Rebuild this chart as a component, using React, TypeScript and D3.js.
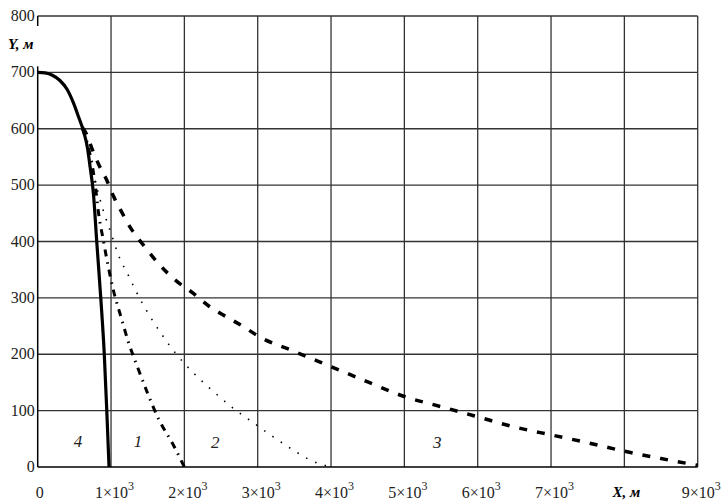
import React from 'react';
import * as d3 from 'd3';

// trajectories: [x (m), y (m)]
const curve4: [number, number][] = [
  [0, 700], [100, 699], [200, 695], [300, 686], [400, 670], [490, 645], [560, 620],
  [622, 597], [680, 565], [715, 532], [760, 485], [805, 400], [860, 300],
  [908, 200], [942, 100], [973, 0],
];
const curve1: [number, number][] = [
  [610, 600], [700, 562], [780, 505], [830, 450], [895, 402], [963, 355], [1031, 314],
  [1136, 266], [1236, 222], [1359, 178], [1495, 132], [1645, 86], [1850, 39], [2000, 0],
];
const curve2: [number, number][] = [
  [690, 560], [760, 520], [873, 464], [1009, 411], [1100, 376], [1236, 340], [1359, 307],
  [1509, 272], [1682, 237], [1873, 203], [2123, 167], [2396, 134], [2669, 104],
  [2935, 79], [3206, 54], [3473, 31], [3738, 11], [4000, 0],
];
const curve3: [number, number][] = [
  [610, 602], [668, 590], [736, 566], [827, 538], [941, 509], [1031, 481], [1146, 452],
  [1282, 421], [1464, 390], [1645, 361], [1873, 332], [2123, 308], [2328, 286],
  [2578, 266], [2805, 249], [3010, 232], [3500, 205], [4000, 178], [4500, 151],
  [5000, 125], [5500, 107], [6000, 89], [6500, 71], [7000, 57], [7500, 43],
  [8000, 28], [8500, 15], [9000, 3],
];

const xTicks = [0, 1, 2, 3, 4, 5, 6, 7, 9]; // ×10^3, 8 is replaced by axis title
const yTicks = [0, 100, 200, 300, 400, 500, 600, 700, 800];
const curveLabels = [
  { text: '4', x: 550, y: 44 },
  { text: '1', x: 1368, y: 44 },
  { text: '2', x: 2420, y: 43 },
  { text: '3', x: 5450, y: 43 },
];

const W = 722, H = 502;
const margin = { left: 37.7, right: 24.3, top: 16, bottom: 35 };

export default function App() {
  const x = d3.scaleLinear().domain([0, 9000]).range([margin.left, W - margin.right]);
  const y = d3.scaleLinear().domain([0, 800]).range([H - margin.bottom, margin.top]);
  const line = d3.line<[number, number]>()
    .x(d => x(d[0]))
    .y(d => y(d[1]))
    .curve(d3.curveMonotoneX);

  const font = '"Liberation Serif", "DejaVu Serif", serif';
  const gridColor = '#333';

  return (
    <svg width={W} height={H} style={{ position: 'absolute', left: 0, top: 0, background: '#fff' }}
      fontFamily={font}>
      <rect width={W} height={H} fill="#fff" />
      {/* grid */}
      {d3.range(1000, 9001, 1000).map(v => (
        <line key={'gx' + v} x1={x(v)} x2={x(v)} y1={y(0)} y2={y(800)} stroke={gridColor} strokeWidth={1.3} />
      ))}
      {d3.range(100, 801, 100).map(v => (
        <line key={'gy' + v} x1={x(0)} x2={x(9000)} y1={y(v)} y2={y(v)} stroke={gridColor} strokeWidth={1.3} />
      ))}
      {/* axes */}
      <line x1={x(0)} x2={x(0)} y1={y(0)} y2={y(800)} stroke="#000" strokeWidth={1.5} />
      <line x1={x(0)} x2={x(9000)} y1={y(0)} y2={y(0)} stroke="#000" strokeWidth={1.5} />

      {/* y title, covering the axis */}
      <rect x={6} y={y(800) + 10} width={38} height={y(700) - y(800) - 16} fill="#fff" />
      <text x={8} y={49} fontSize={15} fontWeight="bold" fontStyle="italic">Y, м</text>

      {/* tick labels */}
      {yTicks.map(v => (
        <text key={'ty' + v} x={x(0) - 3} y={y(v) + 5} fontSize={16} textAnchor="end" fill="#222">{v}</text>
      ))}
      {xTicks.map(v => v === 0 ? (
        <text key="tx0" x={x(0) + 2} y={498} fontSize={16} textAnchor="middle" fill="#222">0</text>
      ) : (
        <text key={'tx' + v} x={x(v * 1000) - 16} y={498} fontSize={16} fill="#222">
          {v}×10<tspan dy={-8} fontSize={12}>3</tspan>
        </text>
      ))}
      <text x={x(8000) + 2} y={497} fontSize={15} fontWeight="bold" fontStyle="italic" textAnchor="middle">X, м</text>

      {/* curves */}
      <path d={line(curve2) || ''} fill="none" stroke="#000" strokeWidth={1.6} strokeDasharray="1.5,8.5" />
      <path d={line(curve3) || ''} fill="none" stroke="#000" strokeWidth={3.5} strokeDasharray="8,10" />
      <path d={line(curve1) || ''} fill="none" stroke="#000" strokeWidth={3} strokeDasharray="7,6,1.5,6" />
      <path d={line(curve4) || ''} fill="none" stroke="#000" strokeWidth={3.2} />

      {curveLabels.map(l => (
        <text key={l.text} x={x(l.x)} y={y(l.y) + 5} fontSize={17} fontStyle="italic" textAnchor="middle" fill="#222">{l.text}</text>
      ))}
    </svg>
  );
}
